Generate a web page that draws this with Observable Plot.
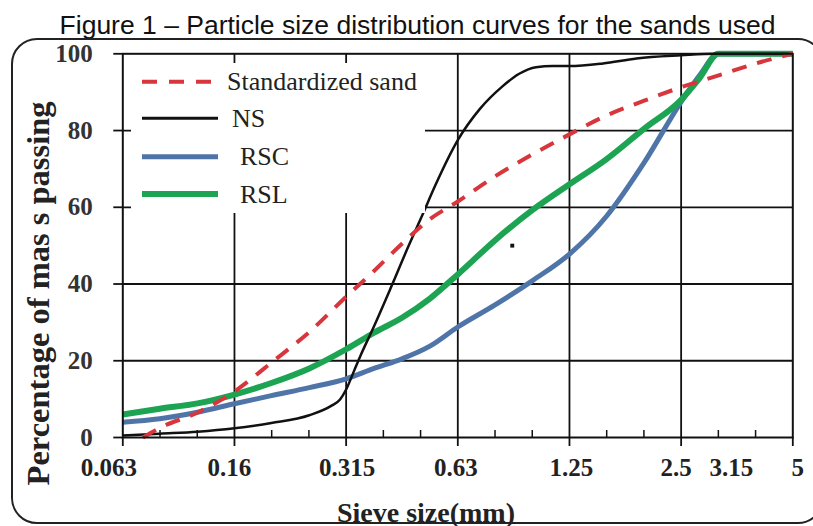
<!DOCTYPE html>
<html><head><meta charset="utf-8">
<script src="https://cdn.jsdelivr.net/npm/d3@7"></script>
<script src="https://cdn.jsdelivr.net/npm/@observablehq/plot@0.6"></script>
<style>
html,body{margin:0;padding:0;background:#fff;overflow:hidden}
#wrap{position:relative;width:813px;height:526px;overflow:hidden;background:#fff}
#title{position:absolute;left:11px;top:10px;width:813px;text-align:center;font-family:"Liberation Sans",Arial,sans-serif;font-size:26.5px;line-height:30px;color:#111;white-space:nowrap}
#border{position:absolute;left:11px;top:38px;width:813px;height:486px;border:2.5px solid #222;border-radius:26px;box-sizing:border-box}
#chart{position:absolute;left:0;top:0}
#legend{position:absolute;left:131px;top:63px}
</style></head><body>
<div id="wrap">
 <div id="title">Figure 1 – Particle size distribution curves for the sands used</div>
 <div id="chart"></div>
 <div id="border"></div>
 <svg id="legend"></svg>
</div>
<script>
// ---- data ----
const sieveSizes = [0.063, 0.16, 0.315, 0.63, 1.25, 2.5, 5];
const labelSizes = [0.063, 0.16, 0.315, 0.63, 1.25, 2.5, 3.15, 5];
const labelTexts = ["0.063", "0.16", "0.315", "0.63", "1.25", "2.5", "3.15", "5"];
const yTicks = [0, 20, 40, 60, 80, 100];
const seriesNames = ["Standardized sand", "NS", "RSC", "RSL"];

const stdSize = [0.0745, 0.0857, 0.1176, 0.16, 0.2001, 0.2519, 0.315, 0.3746, 0.4455, 0.5298, 0.63, 0.7898, 0.9969, 1.25, 1.571, 1.989, 2.5, 3.14, 3.98, 5];
const stdPct  = [0, 2.5, 6.5, 12, 19.5, 27.5, 36.7, 43.4, 50.5, 56.9, 61.5, 68, 73.8, 79, 83.9, 87.8, 91.3, 94.3, 97.5, 100];

const nsSize = [0.063, 0.0857, 0.1176, 0.16, 0.2001, 0.2519, 0.2884, 0.3036, 0.315, 0.3307, 0.345, 0.3746, 0.4156, 0.4621, 0.5057, 0.5484, 0.63, 0.7225, 0.8286, 0.9183, 1.0176, 1.1278, 1.25, 1.539, 1.895, 2.5, 3.078, 5];
const nsPct  = [0.5, 1, 1.5, 2.4, 3.8, 5.8, 8.3, 9.9, 12.5, 17.3, 21.5, 29, 39, 49.5, 58, 65.8, 77.5, 85.7, 91.5, 94.8, 96.5, 96.8, 96.8, 97.5, 98.8, 99.6, 100, 100];

const rscSize = [0.063, 0.0857, 0.1176, 0.16, 0.2001, 0.2519, 0.315, 0.3746, 0.4455, 0.5298, 0.63, 0.7898, 0.9969, 1.25, 1.571, 1.989, 2.5, 2.81, 3.15, 5];
const rscPct  = [4, 4.9, 6.6, 8.8, 10.9, 13, 15.3, 18, 20.5, 23.8, 28.8, 34.5, 40.9, 47.8, 57.6, 71.7, 87.5, 94.5, 100, 100];

const rslSize = [0.063, 0.0857, 0.1176, 0.16, 0.2001, 0.2519, 0.315, 0.3746, 0.4455, 0.5298, 0.63, 0.7898, 0.9969, 1.25, 1.571, 1.989, 2.5, 2.81, 3.15, 5];
const rslPct  = [6, 7.5, 8.9, 11.2, 14.2, 18, 23, 27.3, 31.2, 36.2, 42.5, 51.3, 59.3, 66, 72.5, 80.5, 88, 93.8, 100, 100];

const strayMark = [{size: 0.88, pct: 50}];

// ---- styles ----
const colors = {"Standardized sand": "#D6363C", "NS": "#111111", "RSC": "#4F75A8", "RSL": "#1CA453"};
const widths = {"Standardized sand": 4, "NS": 2.5, "RSC": 5, "RSL": 6};
const dashes = {"Standardized sand": "15,11", "NS": null, "RSC": null, "RSL": null};
const labelNudge = [-14, -5, 1, -2, 2, -5, 13, 5];
const serif = "Liberation Serif, Times New Roman, serif";
const ink = "#111";

// sieve axis: equal spacing between standard sieves, log-interpolated in between
const pos = d3.scaleLog().domain(sieveSizes).range(d3.range(sieveSizes.length));
const X = d => pos(d.size);
const rows = (sizes, pcts, name) => sizes.map((s, i) => ({size: s, pct: pcts[i], name}));
const table = {
  "Standardized sand": rows(stdSize, stdPct, "Standardized sand"),
  "NS": rows(nsSize, nsPct, "NS"),
  "RSC": rows(rscSize, rscPct, "RSC"),
  "RSL": rows(rslSize, rslPct, "RSL")
};
const minor = d3.range(sieveSizes.length - 1).flatMap(k => [k + 1 / 3, k + 2 / 3]);
const lineMark = name => Plot.line(table[name], {
  x: X, y: "pct", stroke: colors[name], strokeWidth: widths[name],
  strokeDasharray: dashes[name], curve: "monotone-x", strokeLinecap: "butt"
});

const chart = Plot.plot({
  width: 813, height: 526,
  marginLeft: 122.3, marginRight: 20.7, marginTop: 53.3, marginBottom: 89,
  style: {background: "transparent", overflow: "visible"},
  x: {type: "linear", domain: [0, sieveSizes.length - 1], axis: null},
  y: {domain: [0, 100], axis: null},
  marks: [
    Plot.gridY(yTicks.slice(1, -1), {stroke: ink, strokeOpacity: 1, strokeWidth: 1.8}),
    Plot.gridX(sieveSizes.slice(1, -1).map(pos), {stroke: ink, strokeOpacity: 1, strokeWidth: 1.8}),
    Plot.axisY(yTicks, {tickSize: 9, tickPadding: 21, stroke: ink, strokeWidth: 1.8, fill: "#333",
      fontSize: 25, fontFamily: serif, fontWeight: "bold", label: null}),
    Plot.axisX(sieveSizes.map(pos), {tickSize: 9, stroke: ink, strokeWidth: 1.8, fill: "none", label: null}),
    Plot.axisX(minor, {tickSize: 7, dy: -7, stroke: ink, strokeWidth: 1.5, fill: "none", label: null}),
    lineMark("RSC"),
    lineMark("RSL"),
    lineMark("NS"),
    lineMark("Standardized sand"),
    Plot.dot(strayMark, {x: X, y: "pct", r: 2.2, symbol: "square", fill: ink}),
    Plot.frame({stroke: ink, strokeWidth: 2}),
    ...labelTexts.map((t, i) => Plot.text([t], {
      x: () => pos(labelSizes[i]), y: () => 0, text: d => d, dx: labelNudge[i], dy: 38,
      lineAnchor: "bottom", fontSize: 25, fontFamily: serif, fontWeight: "bold", fill: "#222"
    })),
    Plot.text(["Sieve size(mm)"], {frameAnchor: "bottom", textAnchor: "middle", dx: -31.8, dy: 84, lineAnchor: "bottom",
      fontSize: 28, fontFamily: serif, fontWeight: "bold", fill: "#222"}),
    Plot.text(["Percentage of mas s passing"], {frameAnchor: "left", textAnchor: "middle", rotate: -90, dx: -74.3, dy: 47.8,
      lineAnchor: "bottom", fontSize: 32.5, fontFamily: serif, fontWeight: "bold", fill: "#222"})
  ]
});
document.getElementById("chart").appendChild(chart);

// ---- legend (white box over the upper-left of the plot) ----
const leg = d3.select("#legend").attr("width", 294).attr("height", 150);
leg.append("rect").attr("width", 294).attr("height", 150).attr("fill", "#fff");
const rowY = [18.7, 55.3, 93.7, 131];
const textX = [96, 101, 109, 109];
seriesNames.forEach((name, i) => {
  leg.append("line").attr("x1", 11).attr("x2", 87).attr("y1", rowY[i]).attr("y2", rowY[i])
    .attr("stroke", colors[name]).attr("stroke-width", name === "NS" ? 3 : widths[name])
    .attr("stroke-dasharray", dashes[name] ? "15,12" : null);
  leg.append("text").attr("x", textX[i]).attr("y", rowY[i] + 8.5)
    .attr("font-family", serif).attr("font-size", 26).attr("fill", "#222").text(name);
});
</script>
</body></html>
